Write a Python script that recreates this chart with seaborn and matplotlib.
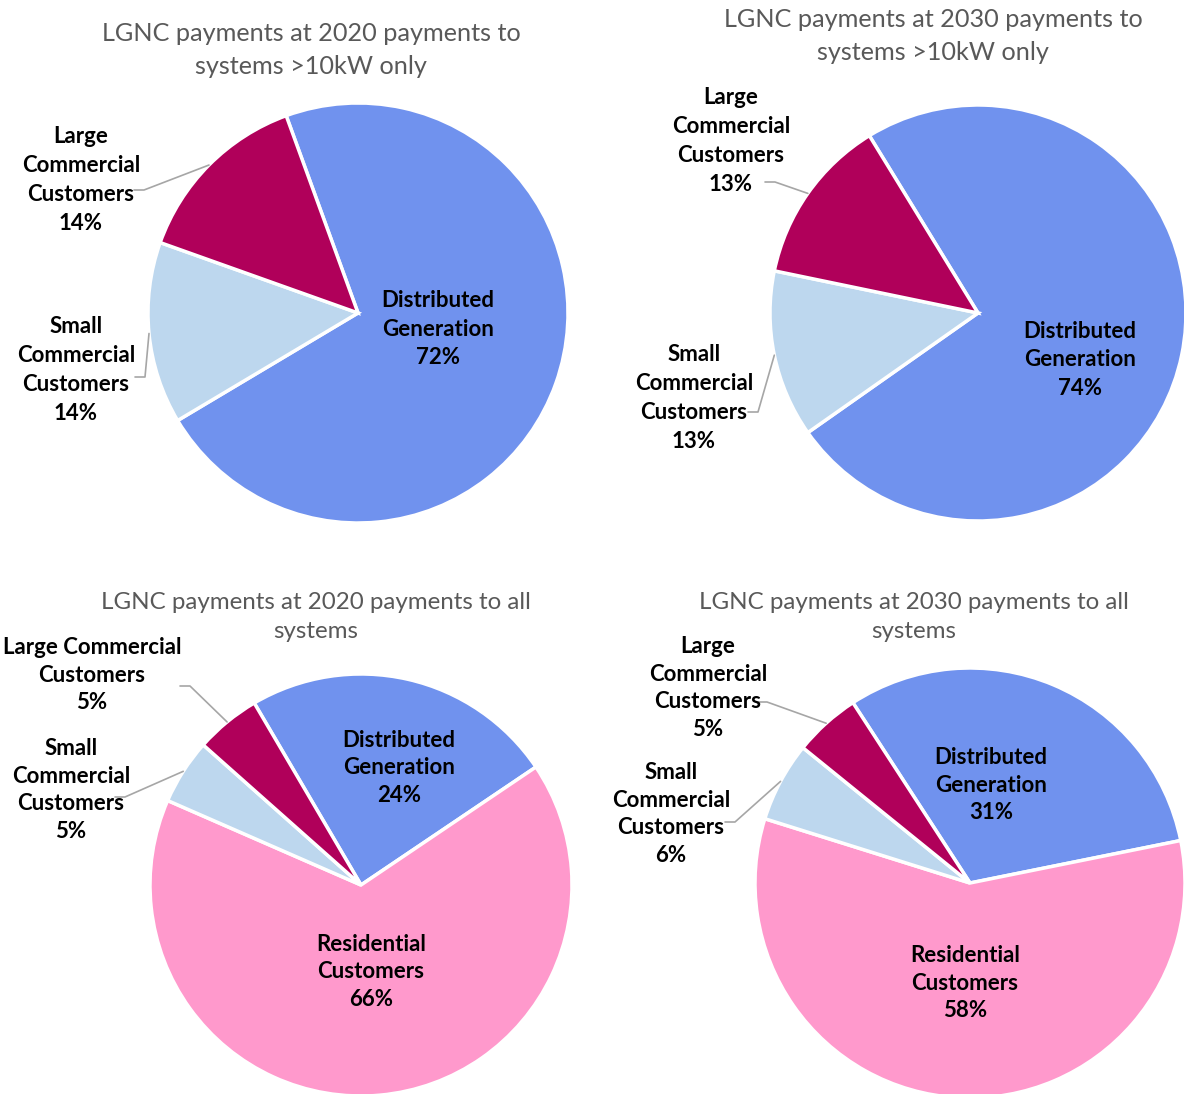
import numpy as np
import matplotlib
matplotlib.use("Agg")
import matplotlib.pyplot as plt
import seaborn as sns

# ---------------- data ----------------
titles = [
    "LGNC payments at 2020 payments to\nsystems >10kW only",
    "LGNC payments at 2030 payments to\nsystems >10kW only",
    "LGNC payments at 2020 payments to all\nsystems",
    "LGNC payments at 2030 payments to all\nsystems",
]
cats_top = ["Distributed\nGeneration", "Small\nCommercial\nCustomers", "Large\nCommercial\nCustomers"]
cats_bottom = ["Distributed\nGeneration", "Residential\nCustomers", "Small\nCommercial\nCustomers", "Large Commercial\nCustomers"]
cats_bottom_r = ["Distributed\nGeneration", "Residential\nCustomers", "Small\nCommercial\nCustomers", "Large\nCommercial\nCustomers"]
vals_2020_10kw = [72, 14, 14]
vals_2030_10kw = [74, 13, 13]
vals_2020_all = [24, 66, 5, 5]
vals_2030_all = [31, 58, 6, 5]

color_map = {"dg": "#7092EE", "res": "#FF99CC", "scc": "#BDD7EE", "lcc": "#B0005A"}
keys_top = ["dg", "scc", "lcc"]
keys_bottom = ["dg", "res", "scc", "lcc"]

# ---------------- layout (pixels, y measured from top) ----------------
W, H = 1184, 1094
sns.set_theme(style="white")
plt.rcParams["font.family"] = ["Lato", "DejaVu Sans"]

fig = plt.figure(figsize=(W / 100, H / 100), dpi=100)
ax = fig.add_axes([0, 0, 1, 1])

def Y(y):
    return H - y

charts = [
    dict(vals=vals_2020_10kw, cats=cats_top, keys=keys_top, center=(358, 313), r=210, start=110,
         title_xy=(311, 50), ls=1.47, tfs=18.2,
         inside={"dg": (438, 329)},
         outside={"lcc": ((81, 180), (134, 190)), "scc": ((76, 370), (135, 377))}),
    dict(vals=vals_2030_10kw, cats=cats_top, keys=keys_top, center=(978, 313), r=208, start=121.5,
         title_xy=(933, 36), ls=1.47, tfs=18.2,
         inside={"dg": (1080, 360)},
         outside={"lcc": ((731, 141), (765, 182)), "scc": ((694, 398), (748, 412))}),
    dict(vals=vals_2020_all, cats=cats_bottom, keys=keys_bottom, center=(361, 885), r=211, start=120.4,
         title_xy=(316, 617), ls=1.4, tfs=17.4,
         inside={"dg": (399, 768), "res": (371, 972)},
         outside={"lcc": ((92, 675), (180, 686)), "scc": ((71, 790), (115, 797))}),
    dict(vals=vals_2030_all, cats=cats_bottom_r, keys=keys_bottom, center=(970, 883), r=215, start=123,
         title_xy=(914, 617), ls=1.4, tfs=17.4,
         inside={"dg": (991, 785), "res": (965, 983)},
         outside={"lcc": ((708, 688), (757, 702)), "scc": ((671, 814), (725, 822))}),
]

LABEL_FS = 16
LINE_COLOR = "#A6A6A6"

for ch, t in zip(charts, titles):
    cx, cy = ch["center"]
    colors = [color_map[k] for k in ch["keys"]]
    wedges, _ = ax.pie(ch["vals"], colors=colors, startangle=ch["start"], counterclock=False,
                       center=(cx, Y(cy)), radius=ch["r"],
                       wedgeprops=dict(edgecolor="white", linewidth=2.5))
    for w in wedges:
        w.set_clip_on(True)
    for i, k in enumerate(ch["keys"]):
        txt = f"{ch['cats'][i]}\n{ch['vals'][i]}%"
        if k in ch["inside"]:
            x, y = ch["inside"][k]
            ax.text(x, Y(y), txt, ha="center", va="center", fontsize=LABEL_FS,
                    fontweight="bold", color="black", linespacing=ch["ls"])
        else:
            (lx, ly), (sx, sy) = ch["outside"][k]
            ax.text(lx, Y(ly), txt, ha="center", va="center", fontsize=LABEL_FS,
                    fontweight="bold", color="black", linespacing=ch["ls"])
            mid = 0.5 * (wedges[i].theta1 + wedges[i].theta2)
            ex = cx + ch["r"] * np.cos(np.radians(mid))
            ey = Y(cy) + ch["r"] * np.sin(np.radians(mid))
            ax.plot([sx, sx + 10, ex], [Y(sy), Y(sy), ey], color=LINE_COLOR, lw=1.2)
    ax.text(ch["title_xy"][0], Y(ch["title_xy"][1]), t, ha="center", va="center",
            fontsize=ch["tfs"], color="#595959", linespacing=1.48)

ax.set_xlim(0, W)
ax.set_ylim(0, H)
ax.set_aspect("equal")
ax.axis("off")
fig.savefig("out.png", dpi=100, facecolor="white")
